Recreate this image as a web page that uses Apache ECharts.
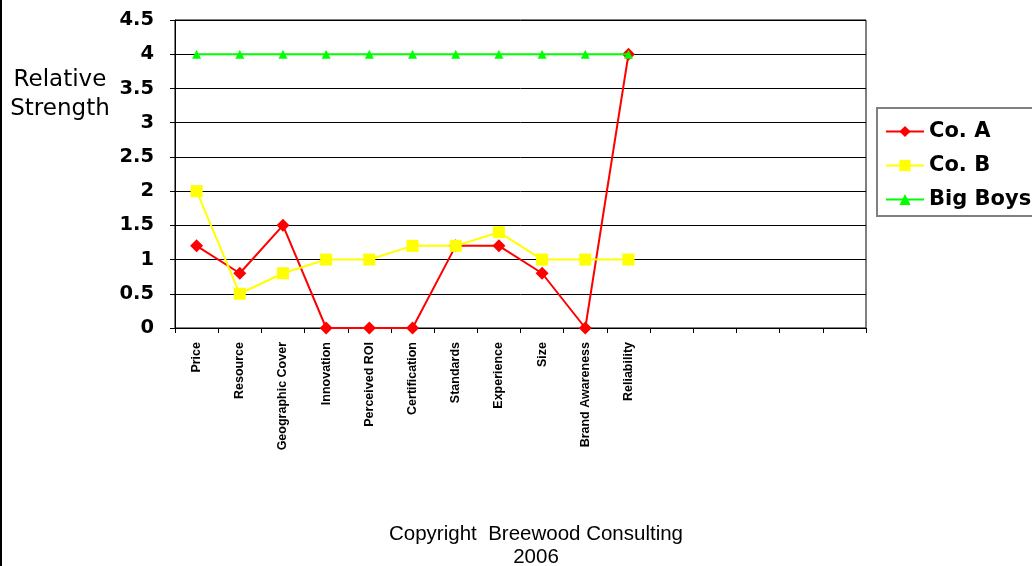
<!DOCTYPE html>
<html>
<head>
<meta charset="utf-8">
<script src="https://cdn.jsdelivr.net/npm/echarts@6/dist/echarts.min.js"></script>
<style>
  html, body { margin: 0; padding: 0; background: #fff; }
  #chart { width: 1032px; height: 566px; }
</style>
</head>
<body>
<div id="chart"></div>
<script>
// Attribute names along the bottom; the trailing blanks leave empty slots on the axis
const categories = [
  'Price', 'Resource', 'Geographic Cover', 'Innovation', 'Perceived ROI',
  'Certification', 'Standards', 'Experience', 'Size', 'Brand Awareness',
  'Reliability', ' ', '  ', '   ', '    ', '     '
];

// Relative strength scores per attribute
const coA     = [1.2, 0.8, 1.5, 0, 0, 0, 1.2, 1.2, 0.8, 0, 4];
const coB     = [2.0, 0.5, 0.8, 1, 1, 1.2, 1.2, 1.4, 1, 1, 1];
const bigBoys = [4, 4, 4, 4, 4, 4, 4, 4, 4, 4, 4];

const yTicks = { min: 0, max: 4.5, interval: 0.5 };

const arial = 'Arial, "Liberation Sans", sans-serif';
const wide = '"DejaVu Sans", Arial, sans-serif';

const chart = echarts.init(document.getElementById('chart'));

chart.setOption({
  animation: false,
  backgroundColor: '#fff',
  grid: {
    left: 175, right: 166, top: 20, bottom: 238,
    show: true, borderColor: '#000', borderWidth: 1, backgroundColor: '#fff'
  },
  legend: {
    orient: 'vertical',
    left: 877, top: 108,
    padding: [13, 12, 6, 8],
    itemGap: 13,
    itemWidth: 38, itemHeight: 14,
    borderColor: '#808080', borderWidth: 2,
    backgroundColor: '#fff',
    textStyle: { fontFamily: wide, fontSize: 21, fontWeight: 'bold', color: '#000' },
    data: ['Co. A', 'Co. B', 'Big Boys']
  },
  xAxis: {
    type: 'category',
    data: categories,
    boundaryGap: true,
    axisLine: { lineStyle: { color: '#000', width: 1 } },
    axisTick: { show: true, inside: false, length: 5, interval: 0, lineStyle: { color: '#000' } },
    axisLabel: {
      interval: 0, rotate: 90, margin: 14,
      fontFamily: arial, fontSize: 12.5, fontWeight: 'bold', color: '#000'
    },
    splitLine: { show: false }
  },
  yAxis: {
    type: 'value',
    min: yTicks.min, max: yTicks.max, interval: yTicks.interval,
    axisLine: { show: true, lineStyle: { color: '#000', width: 1 } },
    axisTick: { show: true, inside: false, length: 5, lineStyle: { color: '#000' } },
    axisLabel: {
      margin: 21,
      padding: [7, 0, 0, 0],
      fontFamily: wide, fontSize: 19.5, fontWeight: 'bold', color: '#000'
    },
    splitLine: { show: true, lineStyle: { color: '#000', width: 1 } }
  },
  series: [
    {
      name: 'Co. A', type: 'line', data: coA,
      symbol: 'diamond', symbolSize: 13,
      lineStyle: { color: '#ff0000', width: 2 },
      itemStyle: { color: '#ff0000' },
      z: 2
    },
    {
      name: 'Co. B', type: 'line', data: coB,
      symbol: 'rect', symbolSize: 12,
      lineStyle: { color: '#ffff00', width: 2 },
      itemStyle: { color: '#ffff00' },
      z: 2
    },
    {
      name: 'Big Boys', type: 'line', data: bigBoys,
      symbol: 'triangle', symbolSize: 9,
      lineStyle: { color: '#00ff00', width: 2 },
      itemStyle: { color: '#00ff00' },
      z: 3
    }
  ],
  graphic: [
    {
      type: 'line',
      shape: { x1: 1, y1: 0, x2: 1, y2: 566 },
      style: { stroke: '#000', lineWidth: 2 }
    },
    {
      type: 'text',
      x: 60, y: 66,
      style: {
        text: 'Relative\nStrength',
        align: 'center',
        verticalAlign: 'top',
        lineHeight: 29,
        font: '23px ' + wide,
        fill: '#000'
      }
    },
    {
      type: 'text',
      x: 536, y: 523,
      style: {
        text: 'Copyright  Breewood Consulting\n2006',
        align: 'center',
        verticalAlign: 'top',
        lineHeight: 23,
        font: '20.5px ' + arial,
        fill: '#000'
      }
    }
  ]
});
</script>
</body>
</html>
